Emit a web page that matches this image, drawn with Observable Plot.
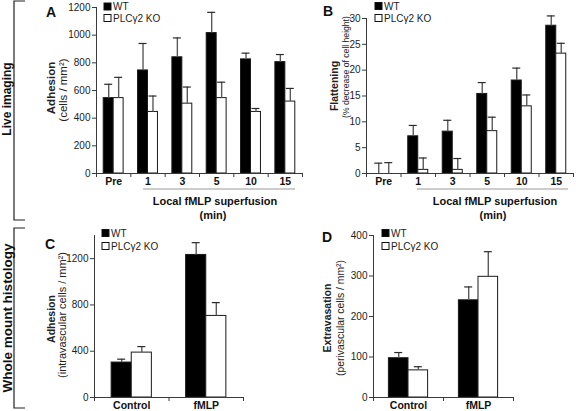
<!DOCTYPE html>
<html>
<head>
<meta charset="utf-8">
<script src="https://cdn.jsdelivr.net/npm/d3@7"></script>
<script src="https://cdn.jsdelivr.net/npm/@observablehq/plot@0.6"></script>
<style>
  html, body { margin: 0; padding: 0; background: #fff; }
  #fig { position: relative; width: 576px; height: 411px; background: #fff; overflow: hidden;
         font-family: "Liberation Sans", Arial, sans-serif; color: #222; }
  #fig > .panel { position: absolute; }
  #fig svg { overflow: visible; }
  #overlay { position: absolute; left: 0; top: 0; }
</style>
</head>
<body>
<div id="fig"></div>
<script>
// ---------- data ----------
const timeLabels = ["Pre", "1", "3", "5", "10", "15"];
const adhesionWT = [545, 745, 840, 1015, 825, 805];
const adhesionWTErr = [100, 195, 140, 150, 45, 55];
const adhesionKO = [545, 445, 505, 545, 445, 520];
const adhesionKOErr = [150, 115, 120, 115, 25, 95];
const adhesionTicks = [0, 200, 400, 600, 800, 1000, 1200];

const flatWT = [0, 7.2, 8.1, 15.4, 18.0, 28.6];
const flatWTErr = [2.0, 2.1, 2.2, 2.2, 2.4, 1.9];
const flatKO = [0, 0.7, 0.7, 8.2, 13.0, 23.2];
const flatKOErr = [2.1, 2.3, 2.2, 2.7, 2.2, 2.0];
const flatTicks = [0, 5, 10, 15, 20, 25, 30];

const condLabels = ["Control", "fMLP"];
const histoAdhWT = [302, 1232];
const histoAdhWTErr = [29, 106];
const histoAdhKO = [388, 705];
const histoAdhKOErr = [52, 115];
const histoAdhTicks = [0, 400, 800, 1200];

const extraWT = [97, 240];
const extraWTErr = [14, 33];
const extraKO = [67, 298];
const extraKOErr = [9, 62];
const extraTicks = [0, 100, 200, 300, 400];

const seriesNames = ["WT", "PLCγ2 KO"];

// ---------- helpers ----------
function rows(labels, wt, wtErr, ko, koErr) {
  const out = [];
  labels.forEach((c, i) => {
    out.push({i, c, g: "WT", v: wt[i], e: wtErr[i]});
    out.push({i, c, g: "KO", v: ko[i], e: koErr[i]});
  });
  return out;
}

function panel({labels, data, yTop, ticks, w, left, top, width, height,
                marginLeft, marginRight, marginTop, marginBottom}) {
  const n = labels.length;
  const x1 = d => d.i + (d.g === "WT" ? -w : 0);
  const x2 = d => d.i + (d.g === "WT" ? 0 : w);
  const xc = d => d.i + (d.g === "WT" ? -w / 2 : w / 2);
  const bounds = d3.range(n + 1).map(k => k - 0.5);
  const axisColor = "#3a3a3a";
  const p = Plot.plot({
    width, height, marginLeft, marginRight, marginTop, marginBottom,
    style: {background: "transparent", fontFamily: "'Liberation Sans', Arial, sans-serif", fontSize: "10px", color: "#222", overflow: "visible"},
    x: {domain: [-0.5, n - 0.5], axis: null},
    y: {domain: [0, yTop], axis: null},
    marks: [
      Plot.rect(data, {x1, x2, y1: 0, y2: "v",
        fill: d => d.g === "WT" ? "#000" : "#fff", stroke: "#1a1a1a", strokeWidth: 1}),
      Plot.ruleX(data, {x: xc, y1: "v", y2: d => d.v + d.e, stroke: "#5a5a5a", strokeWidth: 1.4}),
      Plot.ruleY(data, {y: d => d.v + d.e, x1: xc, x2: xc, insetLeft: -4, insetRight: -4, stroke: "#2a2a2a", strokeWidth: 1.2}),
      Plot.ruleX([-0.5], {y1: 0, y2: yTop, stroke: axisColor, strokeWidth: 1}),
      Plot.ruleY([0], {x1: -0.5, x2: n - 0.5, stroke: axisColor, strokeWidth: 1}),
      Plot.axisY(ticks, {anchor: "left", label: null, tickSize: 4, tickPadding: 2, tickFormat: d => String(d), stroke: axisColor, fill: "#222", fontSize: 10}),
      Plot.axisX(bounds, {anchor: "bottom", label: null, tickSize: 4, tickFormat: () => "", stroke: axisColor}),
      Plot.axisX(d3.range(n), {anchor: "bottom", label: null, tickSize: 0, tickPadding: 4, tickFormat: i => labels[i], fontWeight: "bold", fontSize: 10.5, fill: "#111"})
    ]
  });
  p.classList.add("panel");
  p.style.left = left + "px";
  p.style.top = top + "px";
  p.style.position = "absolute";
  return p;
}

const fig = document.getElementById("fig");

fig.appendChild(panel({
  labels: timeLabels, data: rows(timeLabels, adhesionWT, adhesionWTErr, adhesionKO, adhesionKOErr),
  yTop: 1200, ticks: adhesionTicks, w: 0.29,
  left: 0, top: 0, width: 310, height: 230, marginLeft: 96, marginRight: 8, marginTop: 7, marginBottom: 57
}));
fig.appendChild(panel({
  labels: timeLabels, data: rows(timeLabels, flatWT, flatWTErr, flatKO, flatKOErr),
  yTop: 30, ticks: flatTicks, w: 0.29,
  left: 290, top: 0, width: 286, height: 230, marginLeft: 76, marginRight: 3, marginTop: 18, marginBottom: 57
}));
fig.appendChild(panel({
  labels: condLabels, data: rows(condLabels, histoAdhWT, histoAdhWTErr, histoAdhKO, histoAdhKOErr),
  yTop: 1400, ticks: histoAdhTicks, w: 0.27,
  left: 0, top: 220, width: 260, height: 191, marginLeft: 94, marginRight: 17, marginTop: 15, marginBottom: 14
}));
fig.appendChild(panel({
  labels: condLabels, data: rows(condLabels, extraWT, extraWTErr, extraKO, extraKOErr),
  yTop: 400, ticks: extraTicks, w: 0.28,
  left: 290, top: 220, width: 286, height: 191, marginLeft: 83, marginRight: 63, marginTop: 15, marginBottom: 14
}));

// ---------- overlay annotations ----------
const svg = d3.select(fig).append("svg").attr("id", "overlay")
  .attr("width", 576).attr("height", 411)
  .style("font-family", "'Liberation Sans', Arial, sans-serif");

// brackets
[[1, 220], [228, 408]].forEach(([y0, y1]) => {
  svg.append("path").attr("d", `M25,${y0}H14V${y1}H25`).attr("fill", "none").attr("stroke", "#222").attr("stroke-width", 1.2);
});
const sideLabel = (text, cy, size) => svg.append("text").attr("transform", `translate(7,${cy}) rotate(-90)`)
  .attr("text-anchor", "middle").attr("dy", "0.35em").attr("font-weight", "bold").attr("font-size", size).attr("fill", "#111").text(text);
sideLabel("Live imaging", 99, 12);
sideLabel("Whole mount histology", 318, 13.5);

// panel letters
[["A", 46, 17], ["B", 323, 16], ["C", 45, 249], ["D", 322, 242]].forEach(([t, x, y]) => {
  svg.append("text").attr("x", x).attr("y", y).attr("font-weight", "bold").attr("font-size", 14).attr("fill", "#111").text(t);
});

// legends
function legend(x, y0, y1) {
  [[y0, "#000"], [y1, "#fff"]].forEach(([cy, f], k) => {
    svg.append("rect").attr("x", x).attr("y", cy - 3.5).attr("width", 7).attr("height", 7).attr("fill", f).attr("stroke", "#111").attr("stroke-width", 1);
    svg.append("text").attr("x", x + 9).attr("y", cy).attr("dy", "0.35em").attr("font-size", 10).attr("fill", "#222").text(seriesNames[k]);
  });
}
legend(104, 6.5, 18);
legend(375, 6, 18);
legend(102, 233, 246);
legend(382, 233, 246);

// y axis titles
function yTitle(text, cx, cy, bold, size) {
  svg.append("text").attr("transform", `translate(${cx},${cy}) rotate(-90)`)
    .attr("text-anchor", "middle").attr("dy", "0.35em")
    .attr("font-weight", bold ? "bold" : "normal").attr("font-size", size).attr("fill", "#222").text(text);
}
yTitle("Adhesion", 51, 88, true, 11.5);
yTitle("(cells / mm²)", 63, 90, false, 11.5);
yTitle("Flattening", 334, 86, true, 10.5);
yTitle("(% decrease of cell height)", 346, 67, false, 8.6);
yTitle("Adhesion", 51, 319, true, 10.5);
yTitle("(intravascular cells / mm²)", 62, 315, false, 11);
yTitle("Extravasation", 327, 318, true, 10.5);
yTitle("(perivascular cells / mm²)", 340, 318, false, 10.4);

// x group labels
function xGroup(x0, x1, cx, cx2) {
  svg.append("line").attr("x1", x0).attr("x2", x1).attr("y1", 189).attr("y2", 189).attr("stroke", "#999").attr("stroke-width", 1);
  svg.append("text").attr("x", cx).attr("y", 201).attr("dy", "0.35em").attr("text-anchor", "middle").attr("font-weight", "bold").attr("font-size", 11).attr("fill", "#111").text("Local fMLP superfusion");
  svg.append("text").attr("x", cx2).attr("y", 215).attr("dy", "0.35em").attr("text-anchor", "middle").attr("font-weight", "bold").attr("font-size", 11).attr("fill", "#111").text("(min)");
}
xGroup(143, 295, 215, 213);
xGroup(417, 568, 495, 493);
</script>
</body>
</html>
